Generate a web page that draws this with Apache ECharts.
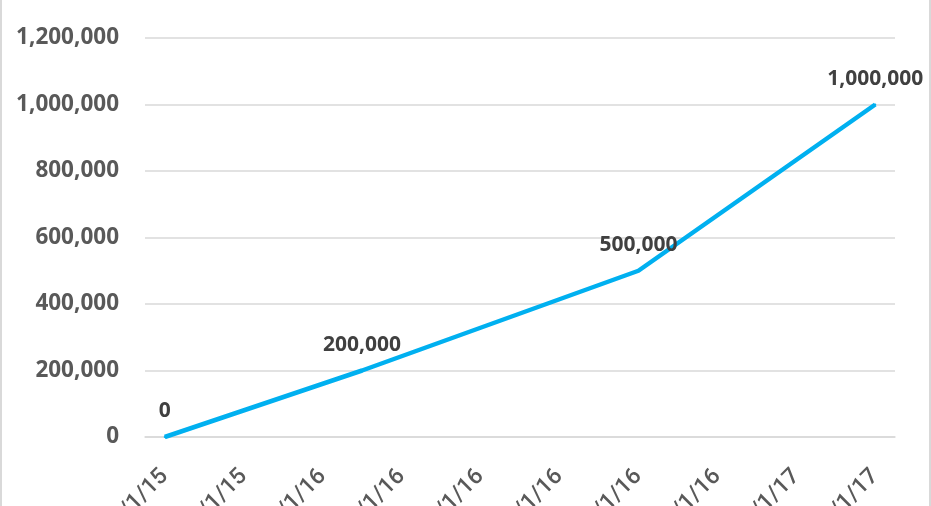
<!DOCTYPE html>
<html>
<head>
<meta charset="utf-8">
<script src="https://cdn.jsdelivr.net/npm/echarts@6/dist/echarts.min.js"></script>
<style>
  html, body { margin: 0; padding: 0; background: #fff; }
  #chart { width: 931px; height: 506px; box-sizing: border-box; border-left: 2px solid #d9d9d9; border-right: 2px solid #d9d9d9; }
</style>
</head>
<body>
<div id="chart"></div>
<script>
// Monthly categories (axis shows every other one)
const categories = ['9/1/15','10/1/15','11/1/15','12/1/15','1/1/16','2/1/16','3/1/16','4/1/16','5/1/16','6/1/16','7/1/16','8/1/16','9/1/16','10/1/16','11/1/16','12/1/16','1/1/17','2/1/17','3/1/17'];
const pointDates = ['9/1/15', '2/1/16', '9/1/16', '3/1/17'];
const pointValues = [0, 200000, 500000, 1000000];
const yTicks = { min: 0, max: 1200000, interval: 200000 };

const fmt = v => Number(v).toLocaleString('en-US');
const fontFamily = '"Open Sans", "Liberation Sans", sans-serif';

const chart = echarts.init(document.getElementById('chart'), null, { renderer: 'canvas' });
chart.setOption({
  animation: false,
  grid: { left: 143, right: 34, top: 38, bottom: 69, containLabel: false, outerBoundsMode: 'none' },
  xAxis: {
    type: 'category',
    data: categories,
    boundaryGap: true,
    axisLine: { show: true, lineStyle: { color: '#d9d9d9', width: 1.5 } },
    axisTick: { show: false },
    axisLabel: {
      interval: 1,
      rotate: 45,
      margin: 36,
      color: '#595959',
      fontSize: 23,
      fontWeight: 500,
      fontFamily: 'Roboto, "Liberation Sans", Arial, sans-serif'
    },
    splitLine: { show: false }
  },
  yAxis: {
    type: 'value',
    min: yTicks.min,
    max: yTicks.max,
    interval: yTicks.interval,
    axisLine: { show: false },
    axisTick: { show: false },
    axisLabel: {
      margin: 26,
      color: '#595959',
      fontSize: 22.5,
      fontWeight: 'bold',
      fontFamily: fontFamily,
      formatter: fmt
    },
    splitLine: { lineStyle: { color: '#d9d9d9', width: 1.5 } }
  },
  series: [{
    type: 'line',
    data: pointDates.map((d, i) => [d, pointValues[i]]),
    symbol: 'circle',
    symbolSize: 2,
    itemStyle: { color: '#00B0F0' },
    lineStyle: { color: '#00B0F0', width: 4.5 },
    label: {
      show: true,
      position: 'top',
      distance: 14,
      color: '#404040',
      fontSize: 21,
      fontWeight: 'bold',
      fontFamily: fontFamily,
      formatter: p => fmt(p.value[1])
    }
  }]
});
</script>
</body>
</html>
